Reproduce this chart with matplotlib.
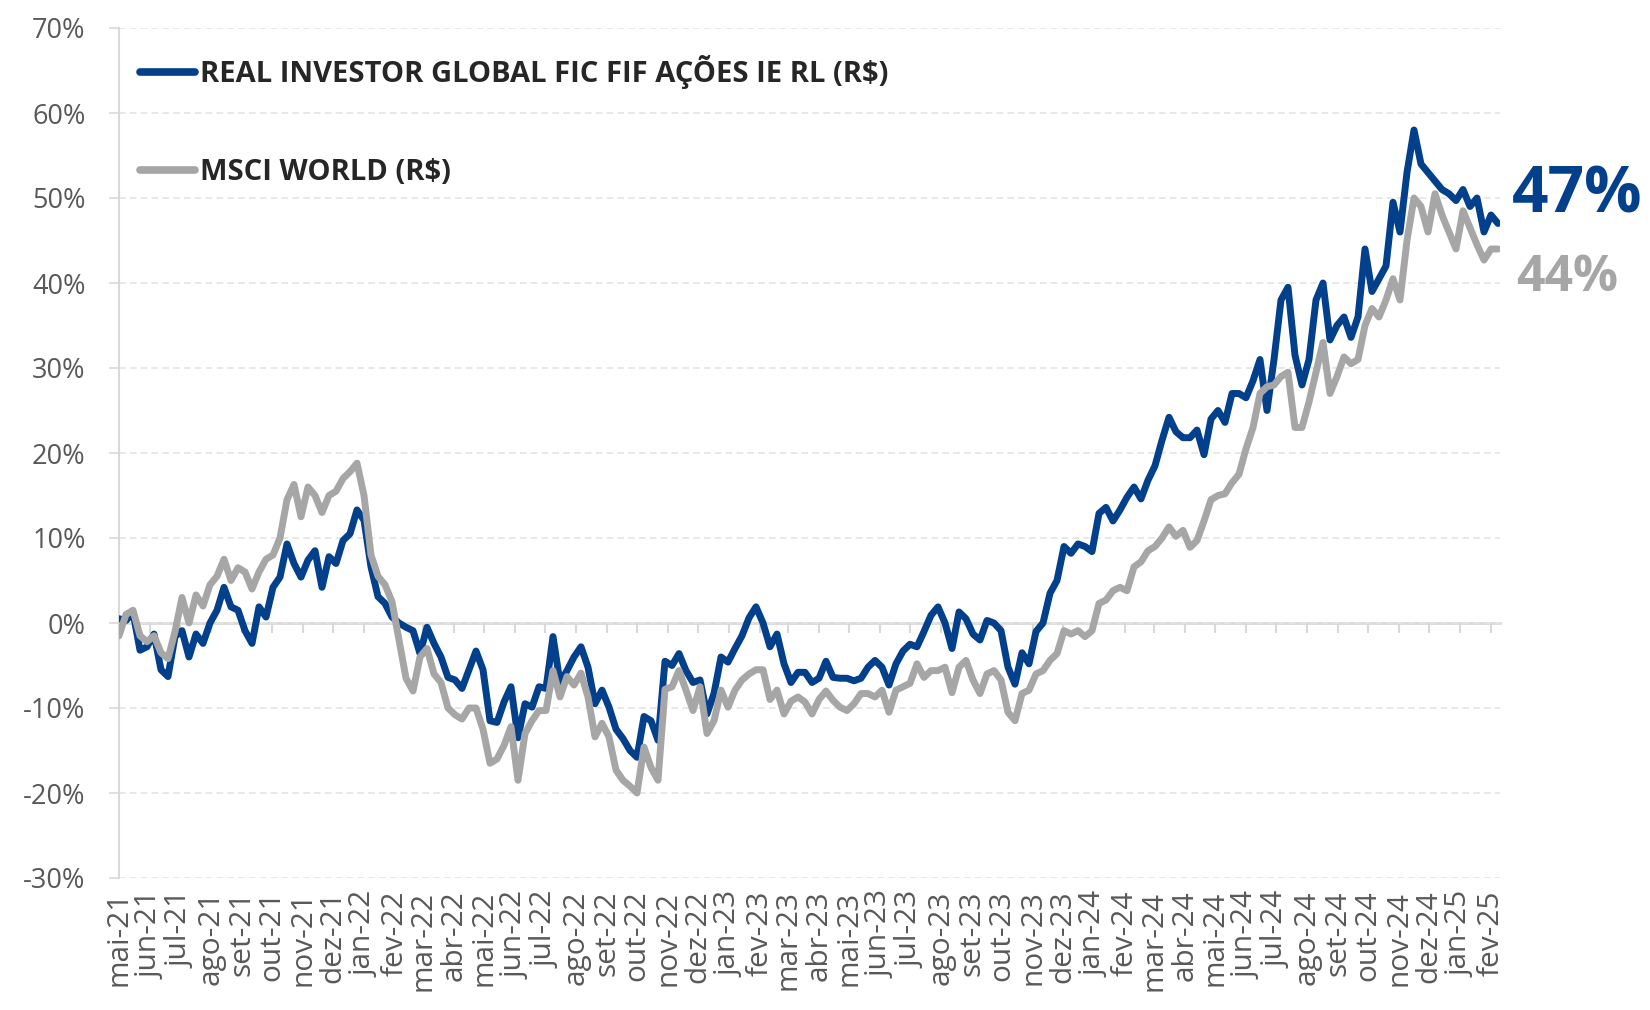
import matplotlib
matplotlib.use("Agg")
import matplotlib.pyplot as plt
import matplotlib.dates as mdates
import matplotlib.ticker as mticker
import pandas as pd
import numpy as np

# ---------------- data (weekly readings, % accumulated return) ----------------
start_date = "2021-05-01"
series_names = ["REAL INVESTOR GLOBAL FIC FIF AÇÕES IE RL (R$)", "MSCI WORLD (R$)"]

fund = [0.5, 0.3, 1.2, -3.2, -2.8, -1.3, -5.5, -6.3, -1.6, -0.9,
        -4.0, -1.3, -2.4, 0.0, 1.5, 4.2, 1.9, 1.5, -0.9, -2.4,
        1.9, 0.7, 4.2, 5.4, 9.3, 7.0, 5.4, 7.4, 8.5, 4.2,
        7.8, 7.0, 9.7, 10.5, 13.3, 12.1, 6.6, 3.1, 2.3, 0.7,
        0.0, -0.5, -0.9, -3.6, -0.5, -2.4, -4.0, -6.4, -6.7, -7.7,
        -5.5, -3.3, -5.5, -11.5, -11.7, -9.3, -7.5, -13.5, -9.5, -9.9,
        -7.5, -7.7, -1.6, -7.0, -5.6, -4.0, -2.8, -5.2, -9.5, -7.9,
        -9.9, -12.5, -13.6, -15.0, -15.8, -11.0, -11.5, -13.8, -4.5, -5.0,
        -3.6, -5.6, -7.0, -6.7, -10.7, -8.3, -4.0, -4.6, -3.0, -1.5,
        0.6, 1.9, 0.0, -2.8, -1.3, -4.8, -7.0, -5.8, -5.8, -7.0,
        -6.5, -4.5, -6.4, -6.5, -6.5, -6.8, -6.5, -5.2, -4.4, -5.2,
        -7.3, -4.8, -3.3, -2.5, -2.8, -1.0, 0.9, 1.9, 0.0, -3.0,
        1.3, 0.5, -1.3, -2.0, 0.3, 0.0, -0.9, -5.2, -7.2, -3.5,
        -4.8, -1.0, 0.0, 3.5, 5.0, 9.0, 8.2, 9.3, 9.0, 8.4,
        12.9, 13.6, 12.0, 13.3, 14.8, 16.0, 14.6, 16.8, 18.5, 21.5,
        24.2, 22.5, 21.8, 21.8, 22.7, 19.8, 24.0, 25.0, 23.6, 27.0,
        27.0, 26.5, 28.5, 31.0, 25.0, 31.0, 38.0, 39.5, 31.5, 28.0,
        31.0, 38.0, 40.0, 33.3, 35.0, 36.0, 33.6, 36.0, 44.0, 39.0,
        40.5, 42.0, 49.5, 46.0, 53.0, 58.0, 54.0, 53.0, 52.0, 51.0,
        50.5, 49.7, 51.0, 49.0, 50.0, 46.0, 48.0, 47.0]

msci = [-1.5, 1.0, 1.5, -1.5, -2.2, -1.5, -3.5, -4.2, -1.0, 3.0,
        0.0, 3.3, 2.0, 4.5, 5.5, 7.5, 5.0, 6.5, 6.0, 4.0,
        6.0, 7.5, 8.0, 10.0, 14.5, 16.3, 12.5, 16.0, 15.0, 13.0,
        15.0, 15.5, 17.0, 17.8, 18.8, 15.0, 8.0, 5.5, 4.5, 2.5,
        -2.0, -6.5, -8.0, -4.0, -3.0, -6.0, -7.0, -10.0, -10.8, -11.3,
        -10.0, -10.0, -12.5, -16.5, -16.0, -14.4, -12.2, -18.5, -13.0, -11.5,
        -10.3, -10.3, -5.6, -8.7, -6.3, -7.3, -5.9, -8.7, -13.4, -11.8,
        -13.4, -17.3, -18.5, -19.2, -20.0, -14.6, -17.0, -18.5, -7.8, -7.5,
        -5.6, -7.9, -10.3, -7.5, -13.0, -11.5, -7.9, -9.9, -7.9, -6.7,
        -6.0, -5.5, -5.5, -9.0, -7.9, -10.7, -9.2, -8.7, -9.3, -10.7,
        -9.0, -8.0, -9.1, -9.9, -10.3, -9.5, -8.3, -8.3, -8.7, -7.9,
        -10.5, -7.9, -7.5, -7.1, -4.8, -6.4, -5.6, -5.6, -5.2, -8.2,
        -5.2, -4.4, -6.7, -8.3, -6.0, -5.6, -6.7, -10.5, -11.5, -8.3,
        -7.9, -6.0, -5.6, -4.4, -3.6, -0.9, -1.3, -0.9, -1.6, -0.9,
        2.3, 2.7, 3.8, 4.2, 3.8, 6.6, 7.2, 8.5, 9.0, 10.0,
        11.3, 10.2, 10.9, 8.9, 9.7, 12.0, 14.5, 15.0, 15.2, 16.5,
        17.5, 20.5, 23.0, 27.0, 27.8, 28.0, 29.0, 29.5, 23.0, 23.0,
        26.0, 29.5, 33.0, 27.0, 29.0, 31.3, 30.5, 31.0, 35.0, 37.0,
        36.0, 38.0, 40.5, 38.0, 45.0, 50.0, 49.0, 46.0, 50.5, 48.0,
        46.0, 44.0, 48.5, 46.5, 44.5, 42.7, 44.0, 44.0]

pt_months = ["jan", "fev", "mar", "abr", "mai", "jun", "jul", "ago", "set", "out", "nov", "dez"]
first_tick, last_tick = "2021-05-01", "2025-02-01"
y_ticks = [-30, -20, -10, 0, 10, 20, 30, 40, 50, 60, 70]

# ---------------- style ----------------
BLUE = "#03408C"
GRAY = "#A6A6A6"
TXT = "#595959"
AXC = "#D9D9D9"
GRID = "#E4E4E4"

plt.rcParams["font.family"] = ["Open Sans", "DejaVu Sans"]

dates = pd.date_range(start_date, periods=len(fund), freq="7D")
xnum = mdates.date2num(dates.to_pydatetime())
month_starts = pd.date_range(first_tick, last_tick, freq="MS")
tick_nums = mdates.date2num(month_starts.to_pydatetime())
tick_labels = [f"{pt_months[d.month - 1]}-{d.year % 100:02d}" for d in month_starts]

W, H = 1650, 1010
fig = plt.figure(figsize=(W / 100, H / 100), dpi=100)
ax = fig.add_axes([119 / W, 1 - 878 / H, (1500 - 119) / W, (878 - 28) / H])

ax.plot(xnum, fund, color=BLUE, lw=5.0, solid_joinstyle="round", solid_capstyle="round",
        label=series_names[0], zorder=3)
ax.plot(xnum, msci, color=GRAY, lw=5.0, solid_joinstyle="round", solid_capstyle="round",
        label=series_names[1], zorder=4)

x0 = mdates.date2num(pd.Timestamp(start_date).to_pydatetime())
ax.set_xlim(x0, xnum[-1] + 2)
ax.set_ylim(y_ticks[0], y_ticks[-1])

# y axis
ax.set_yticks(y_ticks)
ax.yaxis.set_major_formatter(mticker.FuncFormatter(lambda v, p: f"{int(round(v))}%"))
ax.tick_params(axis="y", direction="out", length=7, width=1.2, color=AXC,
               labelcolor=TXT, labelsize=19.5, pad=17)
ax.yaxis.grid(True, linestyle=(0, (4, 2.5)), color=GRID, lw=1.2)
ax.set_axisbelow(True)

# x axis labels at bottom, no tick marks there
ax.set_xticks(tick_nums)
ax.set_xticklabels(tick_labels, rotation=90, ha="center", va="top")
ax.tick_params(axis="x", length=0, labelcolor=TXT, labelsize=21.5, pad=9)

for s in ["top", "right", "bottom"]:
    ax.spines[s].set_visible(False)
ax.spines["left"].set_color(AXC)
ax.spines["left"].set_linewidth(1.5)

# zero line with month tick marks
zero_frac = (0 - y_ticks[0]) / (y_ticks[-1] - y_ticks[0])
sec = ax.secondary_xaxis(zero_frac)
sec.set_xticks(tick_nums)
sec.tick_params(axis="x", direction="out", length=7, width=1.5, color=AXC, labelbottom=False, labeltop=False)
sec.spines["bottom"].set_color(AXC)
sec.spines["bottom"].set_linewidth(2)

# legend
leg = ax.legend(loc="upper left", bbox_to_anchor=(0.015, 0.968), frameon=False,
                handlelength=1.9, handletextpad=0.15, labelspacing=2.35,
                borderaxespad=0, borderpad=0,
                prop={"family": ["Open Sans", "DejaVu Sans"], "weight": "bold", "size": 21})
for t in leg.get_texts():
    t.set_color("#262626")
for h in leg.get_lines():
    h.set_linewidth(5.5)
    h.set_solid_capstyle("round")

# end labels
ax.annotate(f"{fund[-1]:.0f}%", xy=(xnum[-1], fund[-1]), xytext=(10, 20), textcoords="offset points",
            ha="left", va="center", color=BLUE, fontsize=46, fontweight="bold", annotation_clip=False)
ax.annotate(f"{msci[-1]:.0f}%", xy=(xnum[-1], msci[-1]), xytext=(13, -21), textcoords="offset points",
            ha="left", va="center", color=GRAY, fontsize=36, fontweight="bold", annotation_clip=False)

fig.savefig("out.png", dpi=100)
